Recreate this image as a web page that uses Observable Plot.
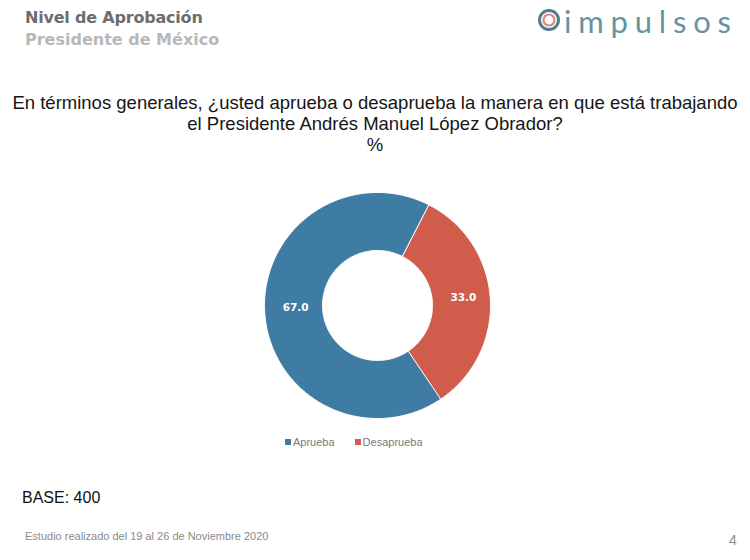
<!DOCTYPE html>
<html>
<head>
<meta charset="utf-8">
<script src="https://cdn.jsdelivr.net/npm/d3@7"></script>
<script src="https://cdn.jsdelivr.net/npm/@observablehq/plot@0.6"></script>
<style>
  html, body { margin: 0; padding: 0; background: #fff; }
  #page { position: relative; width: 750px; height: 560px; overflow: hidden; font-family: "Liberation Sans", Arial, sans-serif; }
  .abs { position: absolute; white-space: nowrap; }
  #t1 { left: 25px; top: 8px; font: bold 16px "DejaVu Sans", sans-serif; color: #6d6d6d; letter-spacing: -0.2px; }
  #t2 { left: 25px; top: 30px; font: bold 16px "DejaVu Sans", sans-serif; color: #b8b8b8; letter-spacing: 0px; }
  #logo { left: 535px; top: 1px; }
  #q { left: 0; width: 750px; top: 92px; text-align: center; font-size: 18.5px; line-height: 21px; color: #151515; }
  #legend { left: 285px; top: 436px; font-size: 11px; color: #7a7a7a; }
  #legend span.sw { display: inline-block; width: 6px; height: 6px; margin-right: 2px; vertical-align: 1px; }
  #legend span.it { margin-right: 20px; }
  #base { left: 22px; top: 489px; font-size: 16px; color: #111; }
  #foot { left: 25px; top: 530px; font-size: 11px; color: #8a8a8a; }
  #pg { left: 729px; top: 532px; font-size: 14px; color: #8a8a8a; }
  #chart { position: absolute; left: 0; top: 165px; }
</style>
</head>
<body>
<div id="page">
  <div class="abs" id="t1">Nivel de Aprobación</div>
  <div class="abs" id="t2">Presidente de México</div>
  <div class="abs" id="logo">
    <svg width="215" height="42">
      <circle cx="14" cy="19" r="9.5" fill="none" stroke="#4f7d8d" stroke-width="3"></circle>
      <circle cx="14" cy="19" r="5.5" fill="none" stroke="#e08a7e" stroke-width="2.2"></circle>
      <text x="29" y="32" font-family="Lato, 'Open Sans', sans-serif" font-size="31" fill="#6693a1" letter-spacing="6.8">impulsos</text>
    </svg>
  </div>
  <div class="abs" id="q">En términos generales, ¿usted aprueba o desaprueba la manera en que está trabajando<br>el Presidente Andrés Manuel López Obrador?<br>%</div>
  <div id="chart"></div>
  <div class="abs" id="legend"></div>
  <div class="abs" id="base">BASE: 400</div>
  <div class="abs" id="foot">Estudio realizado del 19 al 26 de Noviembre 2020</div>
  <div class="abs" id="pg">4</div>
</div>
<script>
// ---- data ----
const categories = ["Aprueba", "Desaprueba"];
const values = [67.0, 33.0];
const colors = ["#3f7ca3", "#d05d4b"];

// ---- geometry ----
const W = 750, H = 280;
const cx = 377, cy = 140, R = 113, r = 55;
const startAngle = 146 * Math.PI / 180;

const pie = d3.pie().sort(null).value(d => d.value)
  .startAngle(startAngle).endAngle(startAngle + 2 * Math.PI);
const rows = categories.map((c, i) => ({ name: c, value: values[i] }));
const arcs = pie(rows);

const pt = (a, rad) => [cx + rad * Math.sin(a), cy - rad * Math.cos(a)];

const ringPts = [];
for (const a of arcs) {
  const n = Math.max(2, Math.ceil((a.endAngle - a.startAngle) / (Math.PI / 180)));
  for (let k = 0; k <= n; k++) {
    const ang = a.startAngle + (a.endAngle - a.startAngle) * k / n;
    const [x, y] = pt(ang, R);
    ringPts.push({ name: a.data.name, x, y });
  }
  for (let k = n; k >= 0; k--) {
    const ang = a.startAngle + (a.endAngle - a.startAngle) * k / n;
    const [x, y] = pt(ang, r);
    ringPts.push({ name: a.data.name, x, y });
  }
}
const labels = arcs.map(a => {
  const m = (a.startAngle + a.endAngle) / 2;
  const [x, y] = pt(m, (R + r) / 2);
  return { x: x + 2, y: y - 3, label: a.data.value.toFixed(1) };
});

const plot = Plot.plot({
  width: W, height: H,
  margin: 0,
  x: { domain: [0, W], range: [0, W], axis: null },
  y: { domain: [0, H], range: [0, H], axis: null },
  color: { domain: categories, range: colors },
  style: { background: "transparent" },
  marks: [
    Plot.line(ringPts, { x: "x", y: "y", z: "name", fill: "name", stroke: "white", strokeWidth: 1, curve: "linear-closed" }),
    Plot.text(labels, { x: "x", y: "y", text: "label", fill: "white", fontSize: 10.5, fontWeight: "bold", fontFamily: "DejaVu Sans, sans-serif" })
  ]
});
document.getElementById("chart").appendChild(plot);

const lg = document.getElementById("legend");
lg.innerHTML = categories.map((c, i) =>
  `<span class="it"><span class="sw" style="background:${colors[i]}"></span>${c}</span>`).join("");
</script>
</body>
</html>
